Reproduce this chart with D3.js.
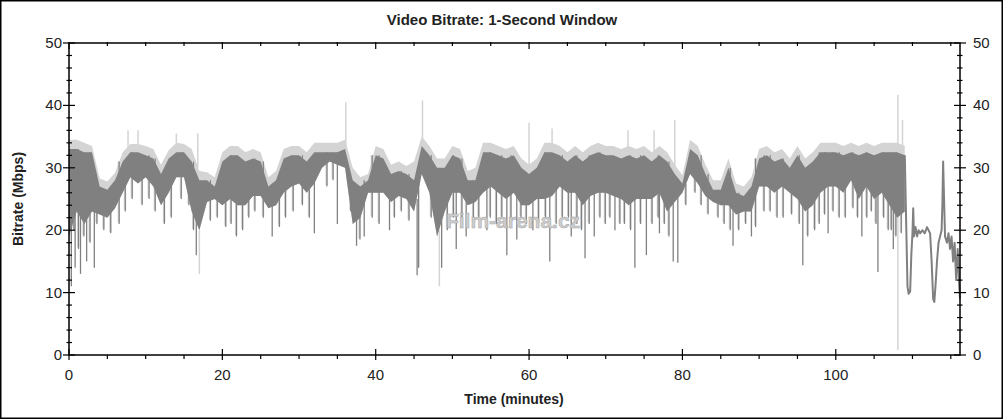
<!DOCTYPE html>
<html><head><meta charset="utf-8">
<script src="https://cdn.jsdelivr.net/npm/d3@7"></script>
<style>body{margin:0;background:#fff}svg{display:block}text{font-family:"Liberation Sans",Arial,sans-serif}</style>
</head><body><svg id="c" width="1004" height="420"></svg>
<script>
// Per-minute band (minute index 0..109): dark top, dark bottom, light peak
const bandHi=[33,33,32.5,32.5,27,26.5,28,31,32.5,32.5,32,31.5,29,31.5,32.5,32.5,31,28,28,27,
31,32,32,31,31.5,31,27,28,31.5,32,32,31,32.5,32.5,32.5,32.5,33,28,27,28,
32,31.5,29,29.5,29,28,33.5,32,30,30,32,31.5,28,28,32.5,32.5,32,31.5,32,30,
29,30,32.5,32.5,32,31,32,31,32,32.5,32,32,31.5,32,31.5,32,31,32,31,29,
27.5,33,32,29,26.5,26.5,30,26,25.5,27,31.5,32,31,31.5,30,32,30,31,32.5,32.5,
32.5,32,32.5,32,32.5,32,32.5,32.5,32.5,32];
const bandLo=[19,23,21,23,22.5,22,23.5,26,28.5,27.5,28.5,27,24,26,28.5,28.5,23,20,24.5,25,
24,25,24,24,25.5,25.5,23.5,24,26,27,27.5,26,27.5,30,31,30.5,30,21,22,26,
26,26,24.5,25.5,25,23,29,26,19,23,26,26,24,24.5,26,27,26,25,26,24,
24,25,25,25.5,27,26,26,24,25.5,26,26,25.5,25,24,25,25,25,26,23,24.5,
26,29,27.5,25.5,24.5,24,24,22.5,23,23,27,27,26,27,26,25,23,24,26,27,
27,26,28,25,27,25,26,24,22,23];
const peak=[34.5,34.5,34,33.5,28.3,27.8,29.2,32.5,33.8,33.8,33.5,33,30.5,32.8,34,33.8,33,29.5,29.3,28.5,
32.5,33.5,33.5,32.5,33,32.5,28.5,29.5,33,33.5,33.5,32.5,34,34,34,34,34.5,30,28.5,29,
33.5,33,30.5,31,30.3,31,35,33.5,31.5,31.5,33.5,33,29.5,30,34,34,33.5,33,33.5,31.5,
30.5,31.5,34,34,33.5,32.5,33.5,32.5,33.5,34,33.5,33.5,33,33.5,33,33.5,32.5,33.5,32.5,30.5,
28.8,34.5,33.5,30.5,28,28,31.5,27.5,27,28.5,33,33.5,32.5,33,31.5,33.5,31.5,32.5,34,34,
34,33.5,34,33.5,34,33.5,34,34,34,33.5];
// Deep downward spikes of the dark trace: [minute, Mbps]
const darkSpikes=[[0.3,11],[0.8,14],[1.5,13],[2.3,15],[3.3,14],[16.6,16],[26.5,19],[32,19.5],[35,21],
[37.5,17.5],[38.5,19],[41.8,20],[45.4,12.8],[45.6,14],[48.6,14],[50.5,17],[51.8,19],[54.5,20],[57.1,16],
[58.4,18.5],[60.5,20],[62.7,15],[65.5,19],[67.3,15.5],[68.5,19],[71.2,20],[73.8,14],[75.3,16],[77,19.5],
[78.8,15],[79.4,14.8],[86.6,17.5],[89,19],[95.7,14.4],[99,19.5],[103.4,19],[105.5,13.3],[107.5,17]];
// Shorter dips of the dark trace: [minute, Mbps]
const midSpikes=[[0.6,20],[1.2,17],[1.9,19],[2.7,18],[3.6,21],[4.5,20],[5.4,19.5],[6.5,21],[7.3,23],[8.2,25],
[9.5,24],[10.4,25],[11.2,23],[12.4,21],[13.3,22],[14.6,25],[15.6,24],[16.2,20],[18.4,21.5],[19.3,22],
[20.4,20.5],[21.1,21],[21.8,19],[22.6,20],[23.4,22],[24.2,23],[25.3,22],[27.4,20.5],[28.2,22],[29.2,23],
[30.4,24],[31.3,22],[33.6,27],[34.4,28],[36.7,23],[37.9,18.5],[39.5,22],[40.4,21],[42.4,22],[43.3,23],
[44.3,21.5],[47.2,22],[49.3,20],[50.1,22],[51.2,21],[52.7,21],[53.4,22],[54.9,22],[55.7,21],[56.4,22],
[57.6,21],[58.9,22],[59.6,21],[61.2,21],[62.1,22],[63.5,21],[64.3,22],[65.1,22],[66.2,21],[66.8,20],
[67.8,21],[69.2,22],[69.9,21],[70.5,22],[71.8,21],[72.4,21],[73.2,20],[74.5,21],[76.0,21],[76.8,22],
[77.6,21],[78.2,19],[80.4,24],[81.6,26],[82.4,24],[83.3,22.5],[84.6,22],[85.4,21],[86.2,20],[87.3,20],
[88.2,21],[89.5,20.5],[90.6,23],[91.4,23],[92.3,22],[93.1,22],[94.2,22.5],[95.2,21],[96.3,19],[97.2,20],
[97.8,21],[98.5,22.5],[99.6,23],[100.4,22],[101.2,22],[102.2,23.5],[102.8,22],[104.0,22],[104.6,23],[105.2,21],
[106.2,22],[106.8,20],[107.2,20],[107.8,19],[108.5,19.5]];
// Light trace spikes: [minute, low, high]
const lightSpikes=[[7.7,31,36],[9,31,36],[14,31,35.5],[16.8,30,35.5],[17,13,20],[36.1,30,40.5],[46.1,30,40.8],
[48.3,11,20],[60,30,37.2],[63,30,36.3],[72.9,30,36],[76.3,30,36],[79,28,37.7],[108.1,0.8,41.7],[108.7,30,37.7]];
// Final minutes, single trace
const tailTime=[109.0,109.2,109.35,109.5,109.7,109.85,110.0,110.1,110.2,110.4,110.6,110.8,111.0,111.3,111.6,111.9,
112.1,112.3,112.5,112.7,112.85,113.0,113.2,113.4,113.6,113.8,113.9,114.0,114.1,114.25,114.5,114.7,114.9,
115.1,115.3,115.5,115.7,115.9,116.1,116.2];
const tailValue=[32,20,11,9.8,10.2,16,19.5,23.5,19,20.5,19,20,19.5,20,19.5,20.5,
20,19.5,15,9,8.5,11,15,18,19,20,24,31,26,19,18,19.5,17,
19,15,18,12,17,11,9];
const xTicks=[0,20,40,60,80,100];
const yTicks=[0,10,20,30,40,50];

const svg=d3.select("#c");
const x=d3.scaleLinear().domain([0,116.2]).range([69,960]);
const y=d3.scaleLinear().domain([0,50]).range([355,43]);
const DARK="#808080", LIGHT="#d4d4d4";

svg.append("rect").attr("x",0.75).attr("y",0.75).attr("width",1001.5).attr("height",417.5)
  .attr("fill","#fff").attr("stroke","#000").attr("stroke-width",1.5);

const mins=d3.range(bandHi.length);
const nearest=t=>Math.min(bandLo.length-1,Math.round(t));
const g=svg.append("g");
g.append("path").datum(mins).attr("fill",LIGHT)
  .attr("d",d3.area().x(i=>x(i)).y0(i=>y(bandLo[i])).y1(i=>y(peak[i])));
lightSpikes.forEach(s=>{
  g.append("line").attr("x1",x(s[0])).attr("x2",x(s[0])).attr("y1",y(s[1])).attr("y2",y(s[2]))
   .attr("stroke",LIGHT).attr("stroke-width",1.5);
});
midSpikes.forEach(s=>{
  const i=nearest(s[0]);
  g.append("line").attr("x1",x(s[0])).attr("x2",x(s[0])).attr("y1",y(s[1])-1.5).attr("y2",y(bandHi[i]))
   .attr("stroke",LIGHT).attr("stroke-width",2.4);
});
g.append("path").datum(mins).attr("fill",DARK)
  .attr("d",d3.area().x(i=>x(i)).y0(i=>y(bandLo[i])).y1(i=>y(bandHi[i])));
midSpikes.forEach(s=>{
  const i=nearest(s[0]);
  g.append("line").attr("x1",x(s[0])+0.3).attr("x2",x(s[0])+0.3).attr("y1",y(s[1])).attr("y2",y(bandHi[i]))
   .attr("stroke",DARK).attr("stroke-width",1.2);
});
darkSpikes.forEach(s=>{
  const i=nearest(s[0]);
  g.append("line").attr("x1",x(s[0])).attr("x2",x(s[0])).attr("y1",y(s[1])).attr("y2",y(bandLo[i]+2))
   .attr("stroke",DARK).attr("stroke-width",1.3);
});
g.append("path").datum(tailTime.map((t,i)=>[t,tailValue[i]])).attr("fill","none").attr("stroke",DARK)
  .attr("stroke-width",2).attr("stroke-linejoin","round").attr("d",d3.line().x(d=>x(d[0])).y(d=>y(d[1])));

svg.append("text").attr("x",513).attr("y",228).attr("text-anchor","middle")
  .attr("font-size",21).attr("font-weight","bold").attr("fill","#cdcdcd")
  .attr("stroke","#a8a8a8").attr("stroke-width",0.5).text("Film-arena.cz");

const ax=svg.append("g").attr("stroke","#000").attr("stroke-width",1.5);
ax.append("rect").attr("x",x(0)).attr("y",y(50)).attr("width",x(116.2)-x(0)).attr("height",y(0)-y(50)).attr("fill","none");
const xMinor=d3.range(0,117,5), yMinor=d3.range(0,51,2);
xMinor.forEach(v=>{
  const major=v%20===0;
  ax.append("line").attr("x1",x(v)).attr("x2",x(v)).attr("y1",y(0)-(major?6:0)).attr("y2",y(0)+(major?5:4)).attr("stroke-width",1.2);
  ax.append("line").attr("x1",x(v)).attr("x2",x(v)).attr("y1",y(50)-1).attr("y2",y(50)+(major?6:3)).attr("stroke-width",1.2);
});
yMinor.forEach(v=>{
  const major=v%10===0;
  ax.append("line").attr("x1",x(0)-(major?6:2.5)).attr("x2",x(0)+(major?6:3)).attr("y1",y(v)).attr("y2",y(v)).attr("stroke-width",1.2);
  ax.append("line").attr("x1",x(116.2)-(major?6:3)).attr("x2",x(116.2)+(major?6:2.5)).attr("y1",y(v)).attr("y2",y(v)).attr("stroke-width",1.2);
});
const lab=svg.append("g").attr("fill","#222").attr("font-size",15);
xTicks.forEach(v=>lab.append("text").attr("x",x(v)).attr("y",380).attr("text-anchor","middle").text(v));
yTicks.forEach(v=>{
  lab.append("text").attr("x",x(0)-7).attr("y",y(v)+5).attr("text-anchor","end").text(v);
  lab.append("text").attr("x",x(116.2)+13).attr("y",y(v)+5).attr("text-anchor","start").text(v);
});
svg.append("text").attr("x",502).attr("y",25).attr("text-anchor","middle").attr("font-size",15).attr("font-weight","bold").attr("fill","#222").text("Video Bitrate: 1-Second Window");
svg.append("text").attr("x",514).attr("y",404).attr("text-anchor","middle").attr("font-size",14).attr("font-weight","bold").attr("fill","#222").text("Time (minutes)");
svg.append("text").attr("transform","translate(23,199) rotate(-90)").attr("text-anchor","middle").attr("font-size",14).attr("font-weight","bold").attr("fill","#222").text("Bitrate (Mbps)");
</script></body></html>
